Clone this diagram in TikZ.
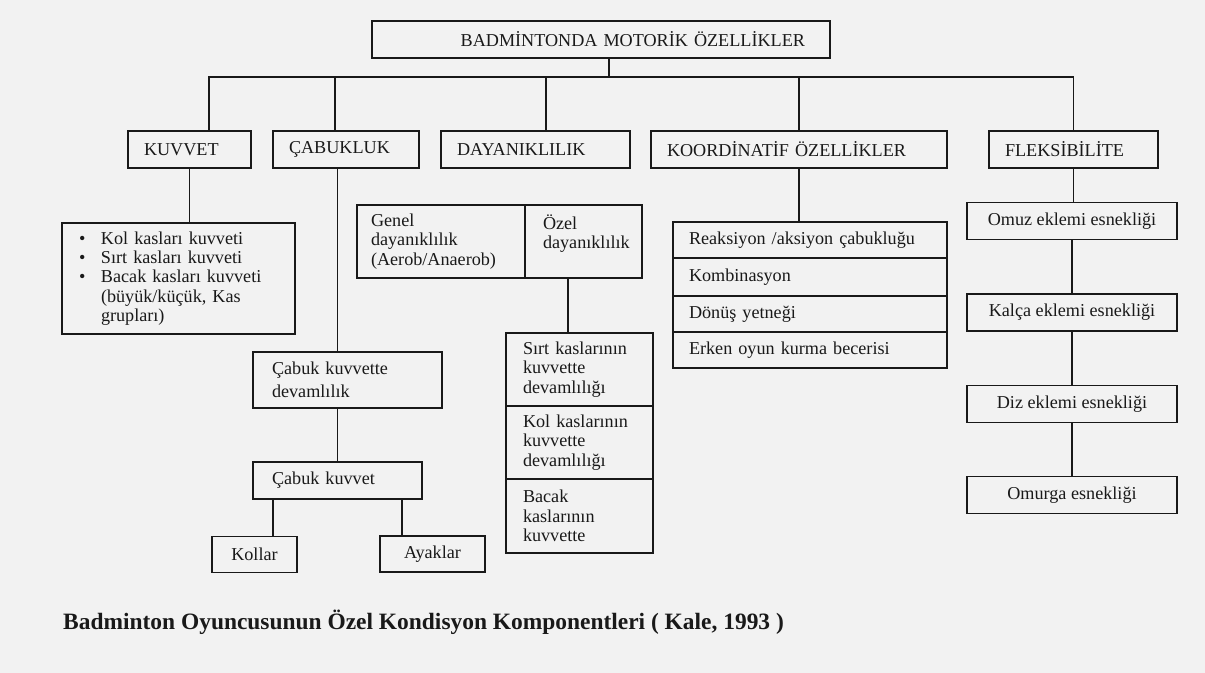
\documentclass[tikz,border=0pt]{standalone}
\usepackage{fontspec}
\setmainfont{Liberation Serif}
\usetikzlibrary{calc,positioning}
\hyphenpenalty=10000 \exhyphenpenalty=10000
\definecolor{scan}{gray}{0.95}
\definecolor{ink}{gray}{0.1}
\newcommand{\bodyfont}{\fontsize{15.5}{16.5}\selectfont}
\newcommand{\capfont}{\fontsize{20}{24}\selectfont\bfseries}
\newcommand{\itm}{\makebox[6.6mm][l]{\textbullet}}

\begin{document}
\begin{tikzpicture}[x=0.3mm,y=-0.3mm]

\tikzset{bx/.style={draw=ink,text=ink,line width=1.4pt,inner ysep=0pt,font=\bodyfont},
hd/.style={bx,minimum height=11.1mm,inner xsep=4.8mm,align=left},
lst/.style={bx,align=left},
fx/.style={bx,minimum width=63mm,minimum height=11.1mm,inner xsep=0pt},
ln/.style={draw=ink,line width=1.4pt}}

\fill[scan] (0,0) rectangle (1205,673);

% top
\node[bx,text width=122.4mm,inner xsep=7.5mm,minimum height=11.1mm,align=right] (root) at (601,39.5) {BADMİNTONDA MOTORİK ÖZELLİKLER};

% main groups
\node[hd,text width=27.3mm] (kuvvet) at (189.5,149.5) {KUVVET};
\node[hd,text width=34.2mm] (cabuk) at (346,149.5) {ÇABUKLUK};
\node[hd,text width=47.1mm] (dayan) at (535.5,149.5) {DAYANIKLILIK};
\node[hd,text width=79.2mm] (koord) at (799,149.5) {KOORDİNATİF ÖZELLİKLER};
\node[hd,text width=41.1mm] (fleks) at (1073.5,149.5) {FLEKSİBİLİTE};

% kuvvet
\node[lst,text width=59.7mm,inner xsep=5.1mm,minimum height=33.3mm] (kuvlist) at (178.5,278.5)
 {\itm Kol kasları kuvveti\\ \itm Sırt kasları kuvveti\\ \itm Bacak kasları kuvveti\\ \hspace*{6.6mm}(büyük/küçük, Kas\\ \hspace*{6.6mm}grupları)};

% cabukluk
\node[lst,text width=45.3mm,inner xsep=5.7mm,minimum height=16.8mm] (cabdev) at (347.5,380) {Çabuk kuvvette\\[3pt]devamlılık};
\node[lst,text width=39.3mm,inner xsep=5.7mm,minimum height=11.1mm] (cabkuv) at (337.5,480.5) {Çabuk kuvvet};
\node[bx,minimum width=25.5mm,minimum height=10.8mm] (kollar) at (254.5,554.5) {Kollar};
\node[bx,minimum width=31.5mm,minimum height=10.8mm] (ayaklar) at (432.5,554) {Ayaklar};

% dayaniklilik
\node[lst,text width=42mm,inner xsep=4.2mm,minimum height=21.9mm] (genel) at (441,241.5) {Genel\\dayanıklılık\\(Aerob/Anaerob)};
\node[lst,text width=29.1mm,inner xsep=3mm,minimum height=21.9mm] (ozel) at (583.5,241.5) {\hspace*{2.4mm}Özel\\\hspace*{2.4mm}dayanıklılık\\\mbox{}};
\node[lst,text width=33.9mm,inner xsep=5.1mm,minimum height=21.9mm] (sirt) at (579.5,369.5) {Sırt kaslarının\\kuvvette\\devamlılığı};
\node[lst,text width=33.9mm,inner xsep=5.1mm,minimum height=21.9mm] (kol) at (579.5,442.5) {Kol kaslarının\\kuvvette\\devamlılığı};
\node[lst,text width=33.9mm,inner xsep=5.1mm,minimum height=22.2mm] (bacak) at (579.5,516) {Bacak\\kaslarının\\kuvvette};

% koordinatif
\node[lst,text width=72.6mm,inner xsep=4.8mm,minimum height=10.8mm] (koor1) at (810,240) {Reaksiyon /aksiyon çabukluğu};
\node[lst,text width=72.6mm,inner xsep=4.8mm,minimum height=11.4mm] (koor2) at (810,277) {Kombinasyon};
\node[lst,text width=72.6mm,inner xsep=4.8mm,minimum height=10.8mm] (koor3) at (810,314) {Dönüş yetneği};
\node[lst,text width=72.6mm,inner xsep=4.8mm,minimum height=10.8mm] (koor4) at (810,350) {Erken oyun kurma becerisi};

% fleksibilite
\node[fx] (omuz) at (1072,221) {Omuz eklemi esnekliği};
\node[fx] (kalca) at (1072,312.5) {Kalça eklemi esnekliği};
\node[fx] (diz) at (1072,404) {Diz eklemi esnekliği};
\node[fx] (omurga) at (1072,495) {Omurga esnekliği};

\node[anchor=west,font=\capfont,text=ink,inner sep=0pt] (caption) at (63,622) {Badminton Oyuncusunun Özel Kondisyon Komponentleri ( Kale, 1993 )};

% bus
\coordinate (b0) at (609,77);
\coordinate (bl) at (209,77);
\coordinate (b2) at (335,77);
\coordinate (b3) at (546,77);
\draw[ln] (b0 |- root.south) -- (b0);
\draw[ln] (bl |- kuvvet.north) -- (bl) -- (fleks.north |- b0) -- (fleks.north);
\draw[ln] (b2) -- (b2 |- cabuk.north);
\draw[ln] (b3) -- (b3 |- dayan.north);
\draw[ln] (koord.north |- b0) -- (koord.north);

% stems
\coordinate (k1) at ([xshift=6.3mm]cabkuv.south west);
\coordinate (k2) at ([xshift=-6.3mm]cabkuv.south east);
\coordinate (o1) at ([xshift=-4.65mm]ozel.south);
\draw[ln] (kuvvet.south) -- (kuvvet.south |- kuvlist.north);
\draw[ln] (cabkuv.north |- cabuk.south) -- (cabkuv.north |- cabdev.north);
\draw[ln] (cabkuv.north |- cabdev.south) -- (cabkuv.north);
\draw[ln] (k1) -- (k1 |- kollar.north);
\draw[ln] (k2) -- (k2 |- ayaklar.north);
\draw[ln] (o1) -- (o1 |- sirt.north);
\draw[ln] (koord.south) -- (koord.south |- koor1.north);
\draw[ln] (fleks.south) -- (fleks.south |- omuz.north);
\draw[ln] (omuz) -- (kalca);
\draw[ln] (kalca) -- (diz);
\draw[ln] (diz) -- (omurga);

\end{tikzpicture}
\end{document}
